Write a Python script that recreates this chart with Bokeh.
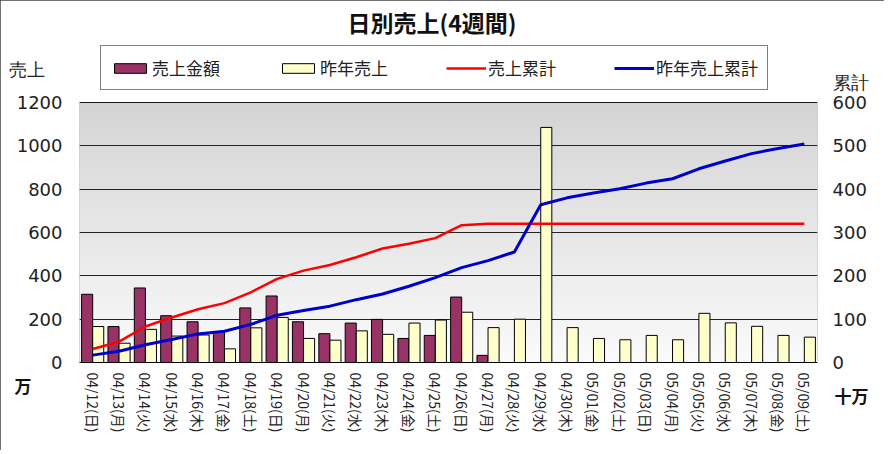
import math
from bokeh.plotting import figure
from bokeh.models import (Range1d, LinearAxis, FactorRange, Legend, LegendItem,
                          BoxAnnotation, ColumnDataSource, FixedTicker)
from bokeh.transform import dodge
from bokeh.embed import file_html
from bokeh.resources import INLINE

# ---------------- data ----------------
dates = ["04/12(日)", "04/13(月)", "04/14(火)", "04/15(水)", "04/16(木)", "04/17(金)",
         "04/18(土)", "04/19(日)", "04/20(月)", "04/21(火)", "04/22(水)", "04/23(木)",
         "04/24(金)", "04/25(土)", "04/26(日)", "04/27(月)", "04/28(火)", "04/29(水)",
         "04/30(木)", "05/01(金)", "05/02(土)", "05/03(日)", "05/04(月)", "05/05(火)",
         "05/06(水)", "05/07(木)", "05/08(金)", "05/09(土)"]

# 売上金額 (万) - only the first 16 days have values
sales = [315, 166, 344, 216, 188, 142, 252, 307, 188, 133, 182, 199, 111, 125, 302, 33]

# 昨年売上 (万)
last_year = [166, 89, 153, 122, 127, 63, 160, 208, 111, 103, 146, 130, 182, 196,
             232, 161, 200, 1085, 161, 111, 105, 125, 105, 227, 183, 167, 125, 117]

# 売上累計 (十万)
sales_cum = [31, 48, 83, 104, 123, 137, 162, 193, 212, 225, 243, 263, 274, 287,
             317, 320, 320, 320, 320, 320, 320, 320, 320, 320, 320, 320, 320, 320]

# 昨年売上累計 (十万)
last_year_cum = [17, 26, 41, 53, 66, 72, 88, 109, 120, 130, 145, 158, 176, 196,
                 219, 235, 255, 364, 380, 391, 401, 414, 424, 447, 465, 482, 494, 504]

left_ticks = [0, 200, 400, 600, 800, 1000, 1200]
right_ticks = [0, 100, 200, 300, 400, 500, 600]
left_max = 1200
right_max = 600

FONT = "Noto Sans CJK JP"
NUMFONT = "DejaVu Sans"


def setp(obj, **kw):
    for k, v in kw.items():
        try:
            setattr(obj, k, v)
        except Exception as e:  # keep going if a property is unknown
            print("skip", k, e)


# ---------------- layout (pixels) ----------------
W, H = 884, 450
FRAME_TOP = 40          # frame reaches up so the legend lies inside it
AREA_TOP = 102          # top of the grey plot area
AREA_BOTTOM = 362
frame_h = AREA_BOTTOM - FRAME_TOP
area_h = AREA_BOTTOM - AREA_TOP
y_end = left_max * frame_h / area_h
y2_end = right_max * frame_h / area_h
unit_tick_left = left_max * (AREA_BOTTOM - 69) / area_h     # row of the "売上" caption
unit_tick_right = right_max * (AREA_BOTTOM - 82) / area_h   # row of the "累計" caption

p = figure(width=W, height=H,
           x_range=FactorRange(*dates, range_padding=0),
           y_range=Range1d(0, y_end),
           output_backend="svg", toolbar_location=None,
           min_border_left=79, min_border_right=67, min_border_top=FRAME_TOP,
           min_border_bottom=H - AREA_BOTTOM)
p.styles = {"outline": "1px solid #444", "outline-offset": "-1px"}
p.background_fill_color = "white"
p.border_fill_color = "white"
p.outline_line_color = None

p.title.text = "日別売上(4週間)"
p.title.align = "left"
p.title.offset = 268
p.title.text_font = FONT
p.title.text_font_size = "23px"
p.title.text_font_style = "bold"
p.title.text_color = "#111111"
p.title.standoff = 4

# gradient background of the plot area
n_bands = 40
for i in range(n_bands):
    b = left_max * i / n_bands
    t = min(left_max, left_max * (i + 1) / n_bands + 2)
    frac = (i + 0.5) / n_bands
    g = int(round(250 - (250 - 212) * frac))
    p.add_layout(BoxAnnotation(bottom=b, top=t, fill_color=(g, g, g), fill_alpha=1.0,
                               line_color=None, level="image"))
# plot-area border
p.add_layout(BoxAnnotation(bottom=0, top=left_max, fill_alpha=0.0, line_color="black",
                           line_width=1, level="underlay"))

p.xgrid.visible = False
p.ygrid.ticker = FixedTicker(ticks=left_ticks)
p.ygrid.grid_line_color = "#222222"
p.ygrid.grid_line_width = 1

# left axis
ly = p.yaxis[0]
ly.ticker = FixedTicker(ticks=left_ticks + [unit_tick_left])
ly.major_label_overrides = {unit_tick_left: "売上\u3000"}
ly.axis_line_color = None
ly.major_tick_line_color = None
ly.minor_tick_line_color = None
ly.major_tick_out = 0
ly.major_tick_in = 0
ly.major_label_standoff = 17
ly.major_label_text_font = NUMFONT
ly.major_label_text_font_size = "18px"
ly.major_label_text_color = "#222222"
ly.axis_label = "\u3000\n万"
setp(ly, axis_label_orientation="horizontal", axis_label_align="start",
     axis_label_standoff=-26, axis_label_text_font=FONT,
     axis_label_text_font_size="17px", axis_label_text_font_style="bold",
     axis_label_text_color="#111111", axis_label_text_line_height=1.8)

# bottom axis
p.xaxis.axis_line_color = "black"
p.xaxis.major_tick_line_color = None
p.xaxis.major_tick_out = 0
p.xaxis.major_tick_in = 0
p.xaxis.major_label_orientation = -math.pi / 2
p.xaxis.major_label_standoff = 10
p.xaxis.major_label_text_font = FONT
p.xaxis.major_label_text_font_size = "14px"
p.xaxis.major_label_text_color = "#222222"

# right axis
p.extra_y_ranges = {"cum": Range1d(0, y2_end)}
raxis = LinearAxis(y_range_name="cum", ticker=FixedTicker(ticks=right_ticks + [unit_tick_right]))
raxis.major_label_overrides = {unit_tick_right: "累計"}
raxis.axis_line_color = None
raxis.major_tick_line_color = None
raxis.minor_tick_line_color = None
raxis.major_tick_out = 0
raxis.major_tick_in = 0
raxis.major_label_standoff = 15
raxis.major_label_text_font = NUMFONT
raxis.major_label_text_font_size = "18px"
raxis.major_label_text_color = "#222222"
raxis.axis_label = "\u3000\n十万"
setp(raxis, axis_label_orientation="horizontal", axis_label_align="start",
     axis_label_standoff=-37, axis_label_text_font=FONT,
     axis_label_text_font_size="17px", axis_label_text_font_style="bold",
     axis_label_text_color="#111111", axis_label_text_line_height=2.6)
p.add_layout(raxis, "right")

# bars
src_s = ColumnDataSource(dict(d=dates[:len(sales)], v=sales))
src_l = ColumnDataSource(dict(d=dates, v=last_year))
r1 = p.vbar(x=dodge("d", -0.21, range=p.x_range), top="v", width=0.42, source=src_s,
            fill_color="#993366", line_color="black", line_width=1)
r2 = p.vbar(x=dodge("d", 0.21, range=p.x_range), top="v", width=0.42, source=src_l,
            fill_color="#FFFFCC", line_color="black", line_width=1)

# cumulative lines
src_c = ColumnDataSource(dict(d=dates, s=sales_cum, l=last_year_cum))
r3 = p.line(x="d", y="s", source=src_c, y_range_name="cum", line_color="#FF0000", line_width=2.5)
r4 = p.line(x="d", y="l", source=src_c, y_range_name="cum", line_color="#0000CC", line_width=3)

# legend (inside the upper, white part of the frame)
legend = Legend(items=[LegendItem(label="売上金額", renderers=[r1]),
                       LegendItem(label="昨年売上", renderers=[r2]),
                       LegendItem(label="売上累計", renderers=[r3]),
                       LegendItem(label="昨年売上累計", renderers=[r4])],
                orientation="horizontal", location=(21, AREA_BOTTOM - 90))
legend.border_line_color = "black"
legend.border_line_width = 1
legend.background_fill_color = "white"
legend.background_fill_alpha = 1.0
legend.label_text_font = FONT
legend.label_text_font_size = "17px"
legend.label_text_color = "#222222"
legend.glyph_width = 40
legend.glyph_height = 12
legend.label_height = 17
legend.label_standoff = 2
legend.spacing = 58
legend.padding = 9
legend.margin = 0
p.add_layout(legend, "center")

open("out.html", "w").write(file_html(p, INLINE))
